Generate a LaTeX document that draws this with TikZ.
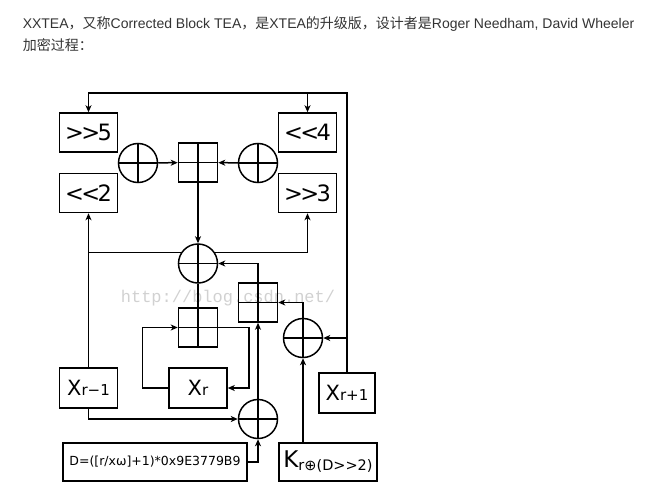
\documentclass[tikz,border=0pt]{standalone}
\usepackage{fontspec}
\setmainfont{Liberation Sans}
\newfontfamily\cjk{Noto Sans CJK SC}
\newfontfamily\dejavu{DejaVu Sans}
\newfontfamily\dejatight[LetterSpace=-12]{DejaVu Sans}
\newfontfamily\wmfont{Liberation Mono}
\usetikzlibrary{arrows.meta}

% big letter with a small index on the same baseline
\newcommand{\regname}[2]{{\fontsize{21}{21}\selectfont #1}{\fontsize{15}{15}\selectfont #2}}

\begin{document}
\begin{tikzpicture}[x=1pt,y=-1pt,line width=1.5pt,
    arr/.style={-{Stealth[length=7pt,width=6pt,inset=2pt]}},
    opbox/.style={draw, minimum width=58pt, minimum height=39pt, inner sep=0pt,
        font=\dejatight\fontsize{22.5}{22.5}\selectfont},
    regbox/.style={draw, minimum width=58pt, minimum height=40pt, inner sep=0pt, font=\dejavu},
    crossed/.style={path picture={\draw[line width=1.5pt]
        (path picture bounding box.north) -- (path picture bounding box.south)
        (path picture bounding box.west) -- (path picture bounding box.east);}},
    xorop/.style={draw, circle, minimum size=39pt, inner sep=0pt, crossed},
    addop/.style={draw, rectangle, minimum size=39pt, inner sep=0pt, crossed}]
    \useasboundingbox (0,0) rectangle (663,500);

    % heading
    \node[anchor=base west, inner sep=0pt, text=black!80, font=\fontsize{14}{14}\selectfont] (title) at (22,29)
        {XXTEA{\cjk ，又称}Corrected Block TEA{\cjk ，是}XTEA{\cjk 的升级版，设计者是}Roger Needham, David Wheeler};
    \node[anchor=base west, inner sep=0pt, text=black!80, font=\fontsize{14}{14}\selectfont] (subtitle) at (22,51)
        {\cjk 加密过程：};

    % watermark
    \node[text=black!18, font=\wmfont\fontsize{17}{17}\selectfont] (mark) at (228,298) {http://blog.csdn.net/};

    % shift boxes
    \node[opbox] (sr5) at (88.5,132.5) {>>5};
    \node[opbox] (sl4) at (307.5,132.5) {<<4};
    \node[opbox] (sl2) at (88.5,193) {<<2};
    \node[opbox] (sr3) at (307.5,193) {>>3};

    % xor and add
    \node[xorop] (xa) at (138,163) {};
    \node[xorop] (xb) at (258,163) {};
    \node[addop] (adda) at (198,162.5) {};
    \node[xorop] (xm) at (198,263.5) {};
    \node[addop] (addb) at (258,302.5) {};
    \node[addop] (addc) at (198,327.5) {};
    \node[xorop] (xr2) at (303,338) {};
    \node[xorop] (xlow) at (258,419) {};

    % registers
    \node[regbox] (xm1) at (88.5,388) {\regname{X}{r−1}};
    \node[regbox] (xr) at (198,388) {\regname{X}{r}};
    \node[regbox, minimum width=56pt] (xp1) at (347,393) {\regname{X}{r+1}};
    \node[draw, minimum width=184pt, minimum height=38pt, inner sep=0pt,
        font=\dejavu\fontsize{12.5}{12.5}\selectfont] (dbox) at (155,462) {D=([r/xω]+1)*0x9E3779B9};
    \node[draw, minimum width=98pt, minimum height=38pt, inner sep=0pt, font=\dejavu] (kbox) at (328,462)
        {{\fontsize{23}{23}\selectfont K}\raisebox{-3pt}{\fontsize{14.5}{14.5}\selectfont r⊕(D>>2)}};

    % feedback from X(r+1)
    \coordinate (topR) at (347,93);
    \draw[arr] (xp1.north) -- (topR) -- (sr5.north |- topR) -- (sr5.north);
    \draw[arr] (sl4.north |- topR) -- (sl4.north);
    \draw[arr] (xr2.east -| topR) -- (xr2.east);

    % upper half
    \draw[arr] (xa) -- (adda);
    \draw[arr] (xb) -- (adda);
    \draw[arr] (adda) -- (xm);
    \draw[arr] (xm1.north) -- (sl2.south);
    \draw (xm.147) -- (xm.147 -| xm1.north);
    \draw[arr] (xm.33) -| (sr3.south);
    \draw[arr] (addb.north) |- (xm.east);
    \draw[arr] (xr2.north) |- (addb.east);
    \draw[arr] (xr2.south |- kbox.north) -- (xr2.south);

    % lower half
    \draw (addc.north) -- (xm.south);
    \draw[arr] (xr.west) -- ++(-26,0) |- (addc.west);
    \draw[arr] (addc.east) -- ++(30.5,0) |- (xr.east);
    \draw[arr] (xlow.north) -- (addb.south);
    \draw[arr] (xm1.south) |- (xlow.west);
    \draw[arr] (dbox.east) -| (xlow.south);
\end{tikzpicture}
\end{document}
